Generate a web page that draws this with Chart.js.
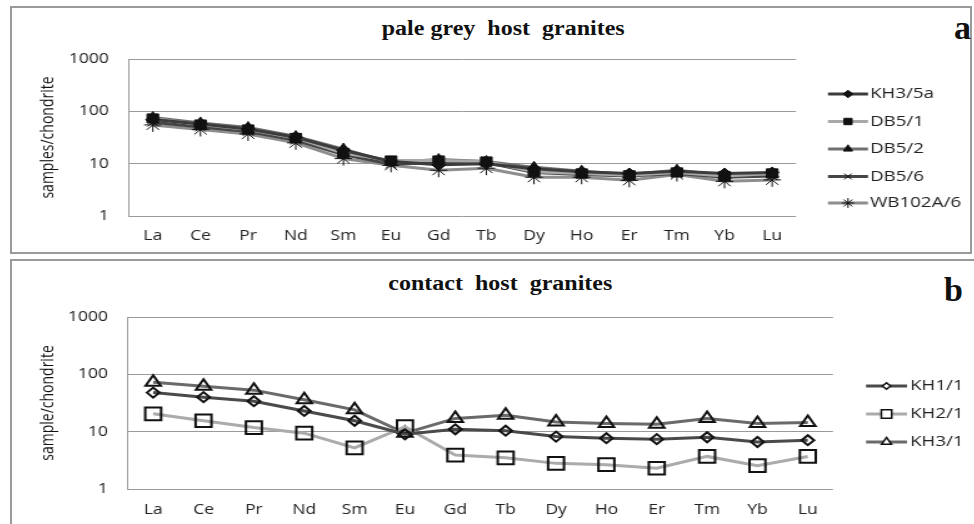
<!DOCTYPE html>
<html lang="en">
<head>
<meta charset="UTF-8">
<script src="https://cdn.jsdelivr.net/npm/chart.js"></script>
<title>REE patterns</title>
<style>
  body { margin: 0; background: #fff; width: 974px; height: 524px; overflow: hidden; position: relative; }
  .panel { position: absolute; border: 2px solid #9a9a9a; box-sizing: border-box; }
  .ttl { position: absolute; font: bold 20px "Liberation Serif", serif; line-height: 20px; color: #111;
         white-space: pre; transform-origin: 50% 50%; }
  .tag { position: absolute; font: bold 34px "Liberation Serif", serif; line-height: 34px; color: #111; }
  canvas { position: absolute; transform: scaleX(1.25); transform-origin: 0 0; }
</style>
</head>
<body>
  <div class="panel" style="left:10px;top:6px;width:962px;height:248px"></div>
  <div class="panel" style="left:10px;top:259px;width:970px;height:280px"></div>

  <div class="ttl" id="ttlA" style="top:18px">pale grey  host  granites</div>
  <div class="tag" style="left:954px;top:11px">a</div>
  <canvas id="chartA" width="768" height="245" style="left:12px;top:8px;width:768px;height:245px"></canvas>

  <div class="ttl" id="ttlB" style="top:273px">contact  host  granites</div>
  <div class="tag" style="left:944px;top:273px">b</div>
  <canvas id="chartB" width="770" height="262" style="left:12px;top:262px;width:770px;height:262px"></canvas>

<script>
// rare earth elements, chondrite normalised
const elements = ['La', 'Ce', 'Pr', 'Nd', 'Sm', 'Eu', 'Gd', 'Tb', 'Dy', 'Ho', 'Er', 'Tm', 'Yb', 'Lu'];
const yTicks = [1, 10, 100, 1000];

// pale grey host granites
const kh35a  = [70, 57, 46, 32, 18, 11, 9.5, 10, 8, 7, 6.5, 7.2, 6.5, 6.8];
const db51   = [73, 56, 45, 31, 16, 11.5, 11.5, 11, 7, 6.5, 6, 6.8, 5.8, 6.5];
const db52   = [76, 60, 49, 33, 19, 10.5, 12, 11, 8.5, 7.2, 6.2, 7.5, 6, 6.3];
const db56   = [62, 50, 41, 28, 15, 9.8, 10.5, 10.5, 6.8, 6.2, 5.8, 6.5, 5.5, 5.8];
const wb102a6 = [55, 45, 37, 25, 12.5, 9.3, 7.5, 8.2, 5.5, 5.5, 4.8, 6.2, 4.6, 4.9];

// contact host granites
const kh11 = [48, 40, 34, 23, 15.5, 9, 11, 10.4, 8.2, 7.7, 7.4, 8, 6.6, 7.1];
const kh21 = [20.5, 15.5, 11.8, 9.4, 5.2, 12.2, 3.9, 3.5, 2.8, 2.65, 2.3, 3.7, 2.55, 3.7];
const kh31 = [73, 62, 53, 36, 24, 9.4, 17, 19.3, 14.8, 13.9, 13.5, 17, 13.9, 14.5];

const tickFont = { family: '"Open Sans", sans-serif', size: 14 };

// center the html titles over each panel (scaled a bit wider like the rest)
function placeTitle(id, cx) {
  const el = document.getElementById(id);
  el.style.left = (cx - el.offsetWidth / 2) + 'px';
  el.style.transform = 'scaleX(1.2)';
}
placeTitle('ttlA', 503);
placeTitle('ttlB', 500);

// legend: line segment with the marker in the middle, then the label
const legendLines = {
  id: 'legendLines',
  afterDraw(chart, args, opts) {
    const ctx = chart.ctx;
    chart.data.datasets.forEach((ds, i) => {
      const y = opts.rows[i];
      ctx.save();
      ctx.strokeStyle = ds.borderColor;
      ctx.lineWidth = 3;
      ctx.beginPath();
      ctx.moveTo(opts.x0, y);
      ctx.lineTo(opts.x1, y);
      ctx.stroke();
      const fill = ds.pointBackgroundColor === 'transparent' ? '#fff' : ds.pointBackgroundColor;
      ctx.fillStyle = fill;
      ctx.strokeStyle = ds.pointBorderColor;
      ctx.lineWidth = opts.markerBorder;
      Chart.helpers.drawPoint(ctx, {
        pointStyle: ds.pointStyle,
        radius: ds.pointRadius * opts.markerScale,
        rotation: 0,
        borderWidth: opts.markerBorder
      }, (opts.x0 + opts.x1) / 2, y);
      ctx.fillStyle = '#222';
      ctx.font = opts.font;
      ctx.textBaseline = 'middle';
      ctx.textAlign = 'left';
      ctx.fillText(ds.label, opts.tx, y);
      ctx.restore();
    });
  }
};

function series(label, data, color, style, radius, filled) {
  return {
    label, data,
    borderColor: color,
    borderWidth: 3,
    pointStyle: style,
    pointRadius: radius,
    pointHoverRadius: radius,
    pointBackgroundColor: filled ? '#111' : 'transparent',
    pointBorderColor: '#111',
    pointBorderWidth: filled ? 1 : 2,
    tension: 0
  };
}

function options(cfg) {
  return {
    responsive: false,
    animation: false,
    events: [],
    layout: { padding: { left: 0, top: cfg.top, right: cfg.right, bottom: 0 } },
    plugins: {
      legend: { display: false },
      tooltip: { enabled: false },
      title: { display: false },
      legendLines: cfg.legend
    },
    scales: {
      x: {
        type: 'category',
        offset: true,
        grid: { display: false, drawTicks: false },
        border: { display: false },
        ticks: { color: '#222', font: tickFont, padding: cfg.xPad, maxRotation: 0, autoSkip: false },
        afterFit: s => { s.height = cfg.xHeight; }
      },
      y: {
        type: 'logarithmic',
        min: 1,
        max: 1000,
        grid: { color: '#9a9a9a', lineWidth: 1, drawTicks: false },
        border: { display: true, color: '#9a9a9a', width: 1 },
        ticks: { color: '#222', font: tickFont, padding: 16, callback: v => String(v) },
        afterBuildTicks: s => { s.ticks = yTicks.map(v => ({ value: v })); },
        title: {
          display: true,
          text: cfg.yTitle,
          color: '#111',
          font: { family: '"Open Sans", sans-serif', size: 14 },
          padding: { top: 21, bottom: 0 }
        },
        afterFit: s => { s.width = cfg.yWidth; }
      }
    }
  };
}

new Chart(document.getElementById('chartA'), {
  type: 'line',
  data: {
    labels: elements,
    datasets: [
      series('KH3/5a', kh35a, '#3c3c3c', 'rectRot', 5.5, true),
      series('DB5/1', db51, '#a8a8a8', 'rect', 6.5, true),
      series('DB5/2', db52, '#707070', 'triangle', 6, true),
      series('DB5/6', db56, '#454545', 'crossRot', 6, true),
      series('WB102A/6', wb102a6, '#8e8e8e', 'star', 7, true)
    ]
  },
  options: options({
    top: 51, right: 140.8, xHeight: 37, xPad: 12, yWidth: 93.6,
    yTitle: 'samples/chondrite',
    legend: {
      rows: [86, 113.5, 141, 168.5, 195],
      x0: 652.8, x1: 684.8, tx: 686.4,
      font: '15px "Open Sans", sans-serif',
      markerScale: 0.7, markerBorder: 1
    }
  }),
  plugins: [legendLines]
});

new Chart(document.getElementById('chartB'), {
  type: 'line',
  data: {
    labels: elements,
    datasets: [
      series('KH1/1', kh11, '#4a4a4a', 'rectRot', 5, false),
      series('KH2/1', kh21, '#ababab', 'rect', 9, false),
      series('KH3/1', kh31, '#6a6a6a', 'triangle', 7, false)
    ]
  },
  options: options({
    top: 55, right: 113.2, xHeight: 35, xPad: 13, yWidth: 92.8,
    yTitle: 'sample/chondrite',
    legend: {
      rows: [124, 152, 180],
      x0: 683.2, x1: 716, tx: 718.4,
      font: '15px "Open Sans", sans-serif',
      markerScale: 0.65, markerBorder: 1.5
    }
  }),
  plugins: [legendLines]
});
</script>
</body>
</html>
